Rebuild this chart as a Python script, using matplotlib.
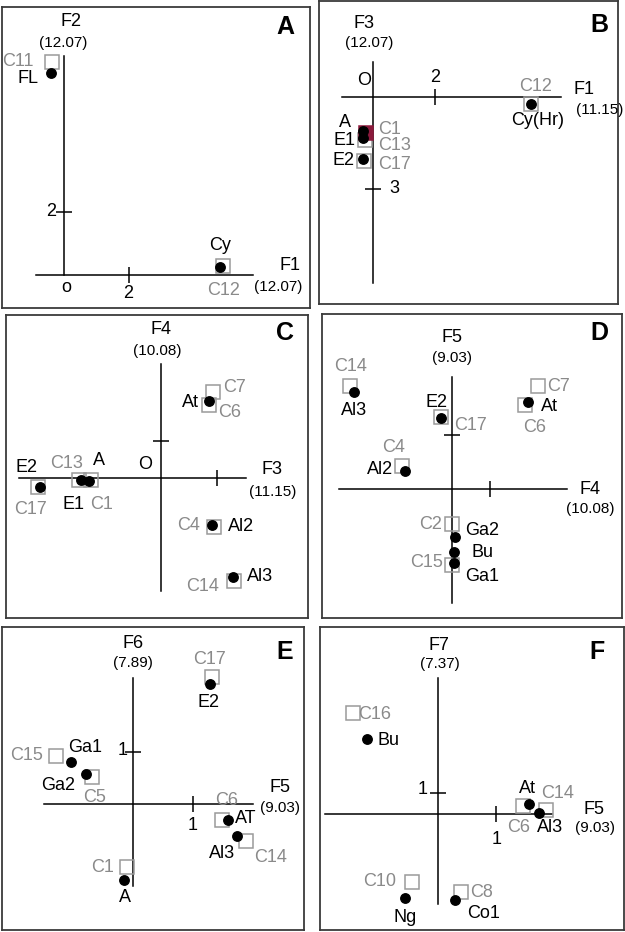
import matplotlib
matplotlib.use('Agg')
import matplotlib.pyplot as plt

plt.rcParams['font.family'] = ['Liberation Sans', 'DejaVu Sans']

W, H = 625, 932
GRAY = '#8a8a8a'
SQ_EDGE = '#9a9a9a'

# ---------------- data (factor scores) ----------------
# Panel A : F1 x F2
A_dot_names = ['FL', 'Cy']
A_dot_x = [-0.41, 4.82]
A_dot_y = [6.38, 0.26]
A_sq_names = ['C11', 'C12']
A_sq_x = [-0.39, 4.92]
A_sq_y = [6.71, 0.28]
A_axes = ['F1', '(12.07)', 'F2', '(12.07)']
A_xticks, A_xticklabels = [2], ['2']
A_yticks, A_yticklabels = [2], ['2']

# Panel B : F1 x F3
B_dot_names = ['Cy(Hr)', 'A', 'E1', 'E2']
B_dot_x = [5.06, -0.31, -0.30, -0.32]
B_dot_y = [-0.24, -1.10, -1.35, -2.03]
B_sq_names = ['C12', 'C13', 'C17', 'C1']
B_sq_x = [5.06, -0.26, -0.29, -0.23]
B_sq_y = [-0.24, -1.40, -2.09, -1.19]
B_axes = ['F1', '(11.15)', 'F3', '(12.07)']
B_xticks, B_xticklabels = [2], ['2']
B_yticks, B_yticklabels = [-3], ['3']

# Panel C : F3 x F4
C_dot_names = ['At', 'E2', 'E1', 'A', 'Al2', 'Al3']
C_dot_x = [1.29, -3.28, -2.17, -1.95, 1.38, 1.95]
C_dot_y = [2.07, -0.26, -0.06, -0.09, -1.28, -2.68]
C_sq_names = ['C6', 'C7', 'C17', 'C13', 'C1', 'C4', 'C14']
C_sq_x = [1.29, 1.39, -3.32, -2.22, -1.91, 1.43, 1.97]
C_sq_y = [1.96, 2.32, -0.26, -0.06, -0.06, -1.32, -2.79]
C_axes = ['F3', '(11.15)', 'F4', '(10.08)']
C_xticks, C_xticklabels = [1.5], ['']
C_yticks, C_yticklabels = [1], ['']

# Panel D : F4 x F5
D_dot_names = ['Al3', 'E2', 'At', 'Al2', 'Ga2', 'Bu', 'Ga1']
D_dot_x = [-2.57, -0.28, 1.98, -1.22, 0.09, 0.06, 0.06]
D_dot_y = [2.69, 1.96, 2.43, 0.51, -1.32, -1.74, -2.06]
D_sq_names = ['C14', 'C17', 'C7', 'C6', 'C4', 'C2', 'C15']
D_sq_x = [-2.66, -0.28, 2.25, 1.91, -1.31, 0.0, 0.0]
D_sq_y = [2.87, 1.99, 2.87, 2.33, 0.65, -0.98, -2.11]
D_axes = ['F4', '(10.08)', 'F5', '(9.03)']
D_xticks, D_xticklabels = [1], ['']
D_yticks, D_yticklabels = [1.5], ['']

# Panel E : F5 x F6
E_dot_names = ['E2', 'Ga1', 'Ga2', 'AT', 'Al3', 'A']
E_dot_x = [1.28, -1.03, -0.78, 1.58, 1.73, -0.14]
E_dot_y = [2.33, 0.82, 0.58, -0.31, -0.62, -1.47]
E_sq_names = ['C17', 'C15', 'C5', 'C6', 'C14', 'C1']
E_sq_x = [1.32, -1.28, -0.68, 1.48, 1.89, -0.10]
E_sq_y = [2.46, 0.93, 0.52, -0.31, -0.72, -1.21]
E_axes = ['F5', '(9.03)', 'F6', '(7.89)']
E_xticks, E_xticklabels = [1], ['1']
E_yticks, E_yticklabels = [1], ['1']

# Panel F : F5 x F7
F_dot_names = ['Bu', 'At', 'Al3', 'Ng', 'Co1']
F_dot_x = [-1.22, 1.56, 1.73, -0.56, 0.30]
F_dot_y = [3.52, 0.46, 0.06, -3.96, -4.04]
F_sq_names = ['C16', 'C6', 'C14', 'C10', 'C8']
F_sq_x = [-1.46, 1.45, 1.86, -0.45, 0.39]
F_sq_y = [4.76, 0.38, 0.19, -3.18, -3.65]
F_axes = ['F5', '(9.03)', 'F7', '(7.37)']
F_xticks, F_xticklabels = [1], ['1']
F_yticks, F_yticklabels = [1], ['1']

# ---------------- layout (pixels) ----------------
layout = {
    'A': dict(box=(2, 7, 310, 308), origin=(64.3, 275), scale=(32.3, 31.7),
              hline=(-0.885, 5.84), vline=(0, 6.91), letter=(285, 27),
              xname=(290, 266), xpct=(278, 287), yname=(71, 21), ypct=(63, 43),
              olabel=('o', 2, -12),
              xtl_off=(-1, -18), ytl_off=(-13, 0),
              dot_off={'FL': (-23, -6), 'Cy': (0, 21)},
              sq_off={'C11': (-34, 1), 'C12': (0, -24)},
              sq_fill={}),
    'B': dict(box=(319, 1, 618, 304), origin=(372.7, 96.7), scale=(31.3, 30.8),
              hline=(-0.981, 6.026), vline=(-6.058, 1.117), letter=(599, 25),
              xname=(584, 90), xpct=(600, 110), yname=(364, 23), ypct=(369, 43),
              olabel=('O', -9, 16),
              xtl_off=(0, 19), ytl_off=(22, 1),
              dot_off={'Cy(Hr)': (7, -16), 'A': (-18, 8), 'E1': (-19, -2), 'E2': (-19, -1)},
              sq_off={'C12': (4, 18), 'C1': (24, 4), 'C13': (30, -6), 'C17': (31, -3)},
              sq_fill={'C1': '#8b1a3c'}),
    'C': dict(box=(6, 315, 308, 618), origin=(161.3, 477.7), scale=(37.0, 37.0),
              hline=(-3.838, 2.289), vline=(-3.054, 3.065), letter=(285, 333),
              xname=(272, 470), xpct=(273, 492), yname=(161, 329), ypct=(157, 351),
              olabel=('O', -16, 13),
              xtl_off=(0, 0), ytl_off=(0, 0),
              dot_off={'At': (-19, -1), 'E2': (-13, 20), 'E1': (-8, -25), 'A': (10, 21),
                       'Al2': (29, -1), 'Al3': (27, 0)},
              sq_off={'C6': (21, -7), 'C7': (22, 4), 'C17': (-8, -22), 'C13': (-13, 16),
                      'C1': (11, -25), 'C4': (-26, 1), 'C14': (-32, -6)},
              sq_fill={}),
    'D': dict(box=(322, 314, 622, 618), origin=(452, 489), scale=(38.3, 36.0),
              hline=(-2.943, 3.003), vline=(-3.175, 3.119), letter=(599, 333),
              xname=(590, 490), xpct=(590, 509), yname=(452, 338), ypct=(452, 358),
              olabel=None,
              xtl_off=(0, 0), ytl_off=(0, 0),
              dot_off={'Al3': (0, -18), 'E2': (-5, 16), 'At': (22, -5), 'Al2': (-25, 1),
                       'Ga2': (27, 6), 'Bu': (28, -1), 'Ga1': (28, -13)},
              sq_off={'C14': (0, 19), 'C17': (29, -8), 'C7': (20, -1), 'C6': (9, -22),
                      'C4': (-8, 18), 'C2': (-21, 0), 'C15': (-25, 2)},
              sq_fill={}),
    'E': dict(box=(2, 627, 304, 930), origin=(132.7, 804), scale=(60.0, 51.7),
              hline=(-1.473, 2.01), vline=(-1.58, 2.443), letter=(285, 652),
              xname=(280, 787), xpct=(280, 808), yname=(133, 643), ypct=(133, 663),
              olabel=None,
              xtl_off=(0, -21), ytl_off=(-10, 2),
              dot_off={'E2': (-1, -19), 'Ga1': (14, 14), 'Ga2': (-28, -11), 'AT': (18, 2),
                       'Al3': (-14, -17), 'A': (1, -18)},
              sq_off={'C17': (-2, 17), 'C15': (-29, 0), 'C5': (3, -20), 'C6': (5, 20),
                      'C14': (24, -16), 'C1': (-24, -1)},
              sq_fill={}),
    'F': dict(box=(320, 627, 624, 930), origin=(438, 814), scale=(58.3, 21.3),
              hline=(-1.943, 1.955), vline=(-4.239, 6.371), letter=(597, 652),
              xname=(594, 809), xpct=(595, 828), yname=(439, 645), ypct=(440, 664),
              olabel=None,
              xtl_off=(0, -26), ytl_off=(-15, 3),
              dot_off={'Bu': (22, -1), 'At': (-1, 16), 'Al3': (11, -15), 'Ng': (0, -19),
                       'Co1': (28, -13)},
              sq_off={'C16': (22, -2), 'C6': (-4, -22), 'C14': (11, 16), 'C10': (-32, 0),
                      'C8': (21, -1)},
              sq_fill={}),
}

panels = {
    'A': (A_dot_names, A_dot_x, A_dot_y, A_sq_names, A_sq_x, A_sq_y, A_axes,
          A_xticks, A_xticklabels, A_yticks, A_yticklabels),
    'B': (B_dot_names, B_dot_x, B_dot_y, B_sq_names, B_sq_x, B_sq_y, B_axes,
          B_xticks, B_xticklabels, B_yticks, B_yticklabels),
    'C': (C_dot_names, C_dot_x, C_dot_y, C_sq_names, C_sq_x, C_sq_y, C_axes,
          C_xticks, C_xticklabels, C_yticks, C_yticklabels),
    'D': (D_dot_names, D_dot_x, D_dot_y, D_sq_names, D_sq_x, D_sq_y, D_axes,
          D_xticks, D_xticklabels, D_yticks, D_yticklabels),
    'E': (E_dot_names, E_dot_x, E_dot_y, E_sq_names, E_sq_x, E_sq_y, E_axes,
          E_xticks, E_xticklabels, E_yticks, E_yticklabels),
    'F': (F_dot_names, F_dot_x, F_dot_y, F_sq_names, F_sq_x, F_sq_y, F_axes,
          F_xticks, F_xticklabels, F_yticks, F_yticklabels),
}

fig = plt.figure(figsize=(W / 100, H / 100), dpi=100)
fig.patch.set_facecolor('white')

LBL = 13
AXN = 13
PCT = 11


def ftext(px, py, s, **kw):
    fig.text(px / W, 1 - py / H, s, ha='center', va='center', **kw)


for key, (dn, dx, dy, sn, sx_, sy_, axn, xt, xtl, yt, ytl) in panels.items():
    L = layout[key]
    x0, y0, x1, y1 = L['box']
    ox, oy = L['origin']
    kx, ky = L['scale']
    ax = fig.add_axes([x0 / W, 1 - y1 / H, (x1 - x0) / W, (y1 - y0) / H])
    ax.set_xlim((x0 - ox) / kx, (x1 - ox) / kx)
    ax.set_ylim((oy - y1) / ky, (oy - y0) / ky)
    ax.set_xticks([])
    ax.set_yticks([])
    for s in ax.spines.values():
        s.set_color('#3a3a3a')
        s.set_linewidth(1.3)

    # axis lines
    ax.plot(L['hline'], [0, 0], color='black', lw=1.1, zorder=2)
    ax.plot([0, 0], L['vline'], color='black', lw=1.1, zorder=2)
    # ticks
    ax.plot(xt, [0] * len(xt), ls='none', marker='|', ms=11, mew=1.1, color='black', zorder=2)
    ax.plot([0] * len(yt), yt, ls='none', marker='_', ms=11, mew=1.1, color='black', zorder=2)
    for v, t in zip(xt, xtl):
        if t:
            ax.annotate(t, (v, 0), xytext=L['xtl_off'], textcoords='offset pixels',
                        ha='center', va='center', fontsize=LBL)
    for v, t in zip(yt, ytl):
        if t:
            ax.annotate(t, (0, v), xytext=L['ytl_off'], textcoords='offset pixels',
                        ha='center', va='center', fontsize=LBL)
    if L['olabel']:
        t, ddx, ddy = L['olabel']
        ax.annotate(t, (0, 0), xytext=(ddx, ddy), textcoords='offset pixels',
                    ha='center', va='center', fontsize=LBL)

    # squares (categories), hollow unless highlighted
    for n, x, y in zip(sn, sx_, sy_):
        fill = L['sq_fill'].get(n)
        fc = fill if fill else 'none'
        ec = fill if fill else SQ_EDGE
        ax.plot([x], [y], ls='none', marker='s', ms=10.5, mfc=fc, mec=ec, mew=1.1,
                zorder=3.5 if fill else 3)
        ax.annotate(n, (x, y), xytext=L['sq_off'][n], textcoords='offset pixels',
                    ha='center', va='center', fontsize=LBL, color=GRAY, zorder=5)
    # dots (groups)
    ax.plot(dx, dy, ls='none', marker='o', ms=6.8, color='black', zorder=4)
    for n, x, y in zip(dn, dx, dy):
        ax.annotate(n, (x, y), xytext=L['dot_off'][n], textcoords='offset pixels',
                    ha='center', va='center', fontsize=LBL, color='black', zorder=5)

    # axis names
    ftext(*L['xname'], axn[0], fontsize=AXN)
    ftext(*L['xpct'], axn[1], fontsize=PCT)
    ftext(*L['yname'], axn[2], fontsize=AXN)
    ftext(*L['ypct'], axn[3], fontsize=PCT)
    ftext(*L['letter'], key, fontsize=18, fontweight='bold')

fig.savefig('out.png', dpi=100, facecolor='white')
